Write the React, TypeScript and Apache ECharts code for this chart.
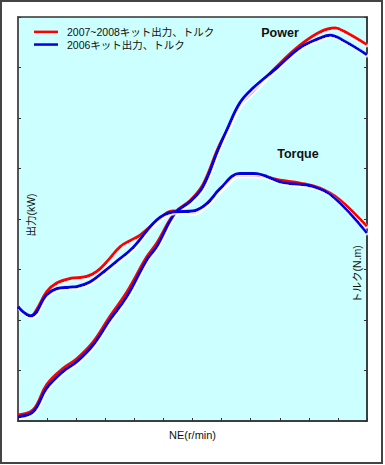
import React, { useEffect, useRef } from "react";
import * as echarts from "echarts";

const seriesNames = ["2007~2008キット出力、トルク", "2006キット出力、トルク"];
const xAxisName = "NE(r/min)";
const leftAxisName = "出力(kW)";
const rightAxisName = "トルク(N.m)";
const powerLabel = "Power";
const torqueLabel = "Torque";

const power2007: [number, number][] = [
  [0, 0.12], [0.52, 0.22], [0.99, 0.72], [1.55, 1.04], [2.02, 1.23], [2.58, 1.56],
  [3.16, 2.07], [3.74, 2.55], [4.43, 3.25], [4.77, 3.52], [5.4, 4.13], [5.91, 4.36],
  [6.36, 4.68], [6.88, 5.4], [7.18, 5.74], [7.63, 6.26], [8.08, 6.53], [8.9, 7.02],
  [9.7, 7.44], [10.38, 7.7], [10.9, 7.78], [11.2, 7.72], [12, 7.45],
];
const power2006: [number, number][] = [
  [0, 0.085], [0.52, 0.18], [0.99, 0.65], [1.55, 0.98], [2.02, 1.17], [2.58, 1.5],
  [3.16, 2.0], [3.74, 2.46], [4.43, 3.19], [4.77, 3.45], [5.4, 4.11], [5.91, 4.34],
  [6.36, 4.64], [6.88, 5.37], [7.18, 5.76], [7.63, 6.3], [8.08, 6.59], [8.9, 6.99],
  [9.7, 7.39], [10.38, 7.58], [10.73, 7.64], [11.17, 7.54], [12, 7.25],
];
const torque2007: [number, number][] = [
  [0, 2.26], [0.44, 2.08], [0.64, 2.2], [0.99, 2.56], [1.33, 2.73], [1.79, 2.82],
  [2.36, 2.86], [2.71, 2.96], [3.05, 3.15], [3.51, 3.45], [3.85, 3.57], [4.2, 3.68],
  [4.77, 3.95], [5.34, 4.16], [6.03, 4.13], [6.37, 4.24], [6.95, 4.57], [7.63, 4.87],
  [8.09, 4.87], [9.01, 4.77], [9.7, 4.71], [10.38, 4.61], [11.07, 4.38], [12, 3.85],
];
const torque2006: [number, number][] = [
  [0, 2.26], [0.44, 2.08], [0.99, 2.5], [1.33, 2.62], [1.79, 2.65], [2.02, 2.66],
  [2.47, 2.75], [2.92, 2.94], [3.39, 3.16], [3.97, 3.44], [4.77, 3.98], [5.34, 4.14],
  [6.03, 4.16], [6.49, 4.3], [6.95, 4.6], [7.63, 4.9], [8.09, 4.9], [9.12, 4.72],
  [10.15, 4.64], [10.84, 4.44], [12, 3.72],
];

const RED = "#ff0000";
const BLUE = "#0000e0";
const FONT = 'Arial, "Liberation Sans", "Noto Sans CJK JP", sans-serif';

export default function App() {
  const ref = useRef<HTMLDivElement>(null);
  useEffect(() => {
    document.body.style.margin = "0";
    if (!ref.current) return;
    const chart = echarts.init(ref.current, undefined, { renderer: "svg" });
    const lineSeries = (name: string, data: [number, number][], color: string, z: number) => ({
      type: "line",
      name,
      data,
      smooth: 0.4,
      symbol: "none",
      z,
      color,
      lineStyle: {
        color,
        width: 3,
        shadowColor: "rgba(255,255,255,0.95)",
        shadowBlur: 1,
        shadowOffsetX: 1,
        shadowOffsetY: 1.5,
      },
    });
    chart.setOption({
      animation: false,
      backgroundColor: "#ffffff",
      textStyle: { fontFamily: FONT },
      grid: {
        left: 18,
        top: 17,
        width: 349,
        height: 404,
        show: true,
        backgroundColor: "#ccffff",
        borderColor: "#333",
        borderWidth: 1.5,
      },
      legend: {
        data: seriesNames,
        orient: "vertical",
        left: 34,
        top: 25.5,
        padding: 0,
        icon: "rect",
        itemWidth: 24,
        itemHeight: 2.5,
        itemGap: 0,
        textStyle: { fontSize: 10.5, color: "#111", lineHeight: 12.7, padding: [0, 0, 0, 4], fontFamily: FONT },
      },
      xAxis: {
        type: "value",
        min: 0,
        max: 12,
        interval: 1,
        name: xAxisName,
        nameLocation: "middle",
        nameGap: 8,
        nameTextStyle: { fontSize: 11, color: "#111", fontFamily: FONT },
        axisLine: { show: true, lineStyle: { color: "#333", width: 1.5 } },
        axisTick: { show: true, inside: true, length: 3, lineStyle: { color: "#333" } },
        axisLabel: { show: false },
        splitLine: { show: false },
      },
      yAxis: [
        {
          type: "value",
          min: 0,
          max: 8,
          interval: 1,
          position: "left",
          axisLine: { show: true, lineStyle: { color: "#555", width: 2 } },
          axisTick: { show: true, inside: true, length: 3, lineStyle: { color: "#333" } },
          axisLabel: { show: false },
          splitLine: { show: false },
        },
        {
          type: "value",
          min: 0,
          max: 8,
          interval: 1,
          position: "right",
          axisLine: { show: true, lineStyle: { color: "#333", width: 1.5 } },
          axisTick: { show: true, inside: true, length: 3, lineStyle: { color: "#333" } },
          axisLabel: { show: false },
          splitLine: { show: false },
        },
      ],
      graphic: [
        {
          type: "rect",
          shape: { x: 1, y: 1, width: 381, height: 462 },
          style: { fill: "none", stroke: "#444", lineWidth: 2 },
          silent: true,
        },
        {
          type: "text",
          x: 280,
          y: 33,
          style: { text: powerLabel, font: `bold 12.5px ${FONT}`, fill: "#111", align: "center", verticalAlign: "middle" },
        },
        {
          type: "text",
          x: 298,
          y: 154,
          style: { text: torqueLabel, font: `bold 12.5px ${FONT}`, fill: "#111", align: "center", verticalAlign: "middle" },
        },
        {
          type: "text",
          x: 31,
          y: 215,
          rotation: Math.PI / 2,
          style: { text: leftAxisName, font: `10.5px ${FONT}`, fill: "#111", align: "center", verticalAlign: "middle" },
        },
        {
          type: "text",
          x: 357,
          y: 274,
          rotation: Math.PI / 2,
          style: { text: rightAxisName, font: `10.5px ${FONT}`, fill: "#111", align: "center", verticalAlign: "middle" },
        },
      ],
      series: [
        lineSeries(seriesNames[0], power2007, RED, 2),
        lineSeries(seriesNames[0], torque2007, RED, 2),
        lineSeries(seriesNames[1], power2006, BLUE, 3),
        lineSeries(seriesNames[1], torque2006, BLUE, 3),
      ],
    });
    return () => chart.dispose();
  }, []);
  return <div ref={ref} style={{ width: 385, height: 465 }} />;
}
